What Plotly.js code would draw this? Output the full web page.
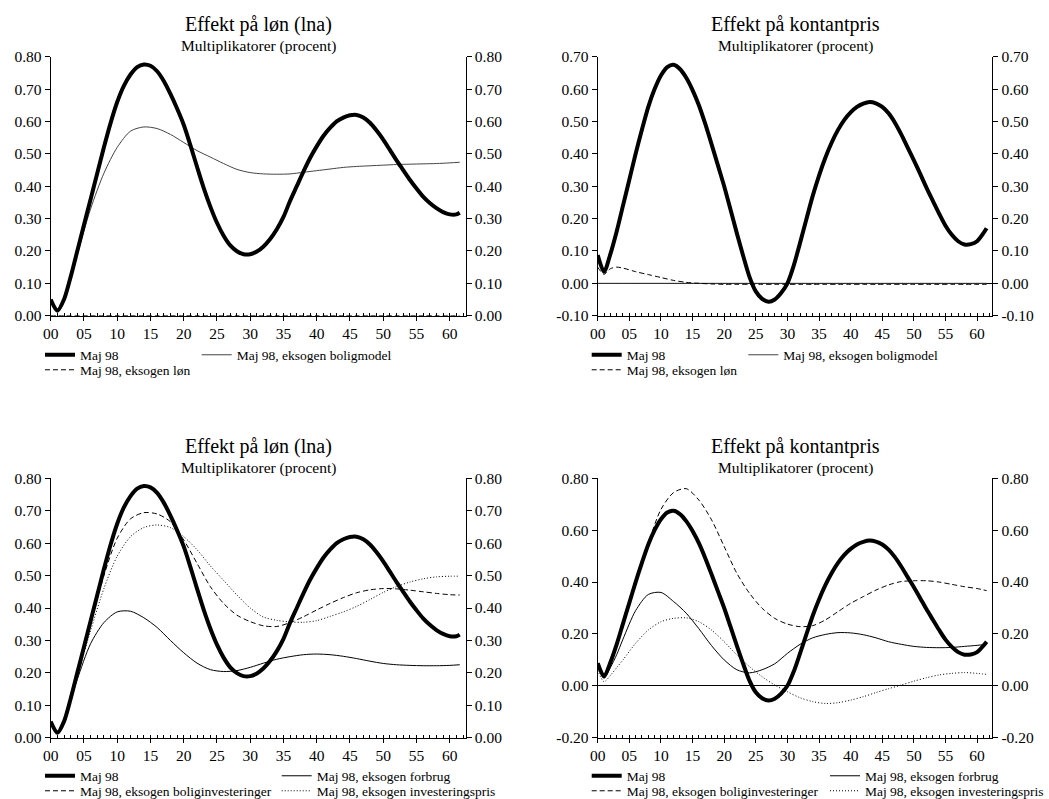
<!DOCTYPE html>
<html>
<head>
<meta charset="utf-8">
<script src="https://cdn.plot.ly/plotly-3.0.1.min.js"></script>
<style>html,body{margin:0;padding:0;background:#fff;overflow:hidden;width:1049px;height:799px;}#chart{width:1049px;height:799px;overflow:hidden;}</style>
</head>
<body>
<div id="chart"></div>
<script>
// ---------------- DATA ----------------
const quarters = [0,1,2,3,4,6,8,10,12,14,16,18,20,22,24,26,28,30,32,34,36,38,40,42,44,46,48,50,52,54,56,58,60,61.5];
const quartersFine = [0,1,2,3,4,5,6,7,8,9,10,11,12,13,14,15,16,17,18,19,20,21,22,23,24,25,26,27,28,29,30,31,32,33,34,35,36,37,38,39,40,41,42,43,44,45,46,47,48,49,50,51,52,53,54,55,56,57,58,59,60,61,61.5];
const xTickVals = [0,5,10,15,20,25,30,35,40,45,50,55,60];
const xTickText = ["00","05","10","15","20","25","30","35","40","45","50","55","60"];

const lnaTickVals = [0,0.1,0.2,0.3,0.4,0.5,0.6,0.7,0.8];
const lnaTickText = ["0.00","0.10","0.20","0.30","0.40","0.50","0.60","0.70","0.80"];
const kontTopTickVals = [-0.1,0,0.1,0.2,0.3,0.4,0.5,0.6,0.7];
const kontTopTickText = ["-0.10","0.00","0.10","0.20","0.30","0.40","0.50","0.60","0.70"];
const kontBotTickVals = [-0.2,0,0.2,0.4,0.6,0.8];
const kontBotTickText = ["-0.20","0.00","0.20","0.40","0.60","0.80"];

const titleLon = "Effekt på løn (lna)";
const titleKont = "Effekt på kontantpris";
const subtitle = "Multiplikatorer (procent)";

const nameMaj98 = "Maj 98";
const nameLoen = "Maj 98, eksogen løn";
const nameBoligmodel = "Maj 98, eksogen boligmodel";
const nameBoliginv = "Maj 98, eksogen boliginvesteringer";
const nameForbrug = "Maj 98, eksogen forbrug";
const nameInvpris = "Maj 98, eksogen investeringspris";

// Effekt på løn (lna) -- Maj 98 on the fine grid
const lnaMaj98 = [0.05,0.015,0.05,0.12,0.20,0.28,0.36,0.44,0.52,0.595,0.66,0.71,0.745,0.768,0.776,0.772,0.755,0.725,0.685,0.64,0.59,0.527,0.46,0.395,0.337,0.287,0.247,0.217,0.199,0.19,0.19,0.198,0.214,0.237,0.267,0.305,0.355,0.40,0.445,0.487,0.523,0.555,0.58,0.60,0.612,0.619,0.62,0.612,0.596,0.572,0.544,0.512,0.48,0.45,0.42,0.393,0.368,0.348,0.332,0.32,0.313,0.313,0.318];
const lnaLoen = [0,0,0,0,0,0,0,0,0,0,0,0,0,0,0,0,0,0,0,0,0,0,0,0,0,0,0,0,0,0,0,0,0,0];
const lnaBoligmodel = [0.05,0.015,0.05,0.115,0.19,0.33,0.44,0.52,0.57,0.583,0.578,0.56,0.535,0.51,0.49,0.47,0.452,0.442,0.438,0.437,0.438,0.443,0.448,0.453,0.458,0.461,0.463,0.465,0.467,0.468,0.469,0.47,0.472,0.474];
const lnaForbrug = [0.05,0.015,0.05,0.115,0.18,0.29,0.355,0.388,0.39,0.37,0.34,0.30,0.262,0.23,0.21,0.204,0.207,0.217,0.23,0.242,0.25,0.256,0.258,0.256,0.251,0.244,0.236,0.229,0.225,0.223,0.222,0.222,0.223,0.225];
const lnaBoliginv = [0.05,0.015,0.05,0.12,0.20,0.35,0.50,0.615,0.675,0.694,0.69,0.666,0.61,0.538,0.466,0.414,0.378,0.358,0.345,0.343,0.355,0.373,0.394,0.414,0.432,0.447,0.456,0.46,0.459,0.455,0.45,0.445,0.441,0.44];
const lnaInvpris = [0.05,0.015,0.05,0.115,0.19,0.33,0.46,0.56,0.62,0.648,0.656,0.648,0.62,0.58,0.53,0.485,0.44,0.40,0.372,0.362,0.357,0.356,0.361,0.374,0.388,0.405,0.426,0.448,0.466,0.48,0.49,0.496,0.498,0.498];

// Effekt på kontantpris -- Maj 98 on the fine grid
const kontMaj98 = [0.087,0.036,0.09,0.16,0.24,0.32,0.40,0.475,0.545,0.60,0.642,0.668,0.675,0.662,0.635,0.597,0.55,0.493,0.43,0.365,0.30,0.228,0.155,0.085,0.02,-0.025,-0.048,-0.057,-0.05,-0.03,0.0,0.055,0.125,0.198,0.27,0.333,0.388,0.435,0.474,0.505,0.528,0.545,0.555,0.56,0.556,0.545,0.525,0.496,0.46,0.42,0.38,0.338,0.295,0.255,0.215,0.178,0.15,0.13,0.12,0.121,0.13,0.155,0.17];
const kontLoen = [0.05,0.028,0.045,0.05,0.047,0.036,0.027,0.018,0.009,0.003,0.0,-0.002,-0.003,-0.003,-0.003,-0.003,-0.003,-0.003,-0.003,-0.003,-0.003,-0.003,-0.003,-0.003,-0.003,-0.003,-0.003,-0.003,-0.003,-0.003,-0.003,-0.003,-0.003,-0.003];
const kontBoligmodel = [0,0,0,0,0,0,0,0,0,0,0,0,0,0,0,0,0,0,0,0,0,0,0,0,0,0,0,0,0,0,0,0,0,0];
const kontForbrug = [0.08,0.03,0.07,0.12,0.18,0.29,0.352,0.36,0.325,0.28,0.22,0.155,0.10,0.062,0.05,0.062,0.085,0.125,0.16,0.185,0.198,0.205,0.204,0.197,0.185,0.17,0.16,0.152,0.148,0.147,0.148,0.152,0.156,0.16];
const kontBoliginv = [0.087,0.036,0.09,0.16,0.24,0.40,0.55,0.68,0.745,0.76,0.716,0.64,0.537,0.434,0.357,0.299,0.26,0.238,0.228,0.232,0.254,0.286,0.318,0.344,0.369,0.389,0.402,0.405,0.405,0.40,0.391,0.382,0.375,0.367];
const kontInvpris = [0.06,0.016,0.04,0.07,0.10,0.164,0.215,0.247,0.26,0.262,0.247,0.215,0.17,0.119,0.074,0.035,0.003,-0.023,-0.046,-0.061,-0.068,-0.065,-0.055,-0.042,-0.026,-0.011,0.003,0.018,0.031,0.042,0.048,0.051,0.048,0.044];

// ---------------- LAYOUT HELPERS ----------------
const W = 1049, H = 799;
const FONT = "Liberation Serif";
const px = v => v / W;
const py = v => 1 - v / H;

const panels = [
  {L:50.7, R:465.7, T:56.7, B:315.7, titleY:25, subY:46, title:titleLon, ticks:[lnaTickVals, lnaTickText], range:[0,0.8], zero:false},
  {L:597.7, R:992.3, T:56.7, B:315.7, titleY:25, subY:46, title:titleKont, ticks:[kontTopTickVals, kontTopTickText], range:[-0.1,0.7], zero:true},
  {L:50.7, R:465.7, T:478.3, B:737.7, titleY:446, subY:467.5, title:titleLon, ticks:[lnaTickVals, lnaTickText], range:[0,0.8], zero:false},
  {L:597.7, R:992.3, T:478.3, B:737.7, titleY:446, subY:467.5, title:titleKont, ticks:[kontBotTickVals, kontBotTickText], range:[-0.2,0.8], zero:true}
];
const xRange = [0, 62.4];

const styles = {
  maj98: {color:'#000', width:4, dash:'solid'},
  loen: {color:'#000', width:1, dash:'5px,3px'},
  boligmodel: {color:'#444', width:1, dash:'solid'},
  forbrug: {color:'#000', width:1, dash:'solid'},
  boliginv: {color:'#000', width:1, dash:'5px,3px'},
  invpris: {color:'#000', width:1, dash:'1px,2px'}
};

const layout = {
  width: W, height: H,
  margin: {l:0, r:0, t:0, b:0, autoexpand: false},
  paper_bgcolor: '#fff', plot_bgcolor: '#fff',
  font: {family: FONT, size: 15, color: '#000'},
  showlegend: true,
  annotations: [],
  hovermode: false
};

const traces = [];
let legendCount = 0;

function addLegend(textX, rowY) {
  legendCount += 1;
  const key = legendCount === 1 ? 'legend' : 'legend' + legendCount;
  layout[key] = {
    x: px(textX - 40), xanchor: 'left',
    y: py(rowY), yanchor: 'middle',
    bgcolor: 'rgba(0,0,0,0)', borderwidth: 0,
    font: {family: FONT, size: 13.5, color: '#000'},
    itemwidth: 30, tracegroupgap: 0
  };
  return key;
}

function addLine(p, xs, y, name, style, legendPos) {
  const i = p + 1;
  const xa = i === 1 ? 'x' : 'x' + i;
  const ya = (2 * p + 1) === 1 ? 'y' : 'y' + (2 * p + 1);
  traces.push({
    type: 'scatter', mode: 'lines', x: xs, y: y, name: name,
    xaxis: xa, yaxis: ya,
    line: {color: style.color, width: style.width, dash: style.dash, shape: 'spline', smoothing: 0.8},
    legend: addLegend(legendPos[0], legendPos[1]),
    hoverinfo: 'skip'
  });
}

panels.forEach((pn, p) => {
  const i = p + 1;
  const xKey = i === 1 ? 'xaxis' : 'xaxis' + i;
  const yL = 2 * p + 1, yR = 2 * p + 2;
  const yLKey = yL === 1 ? 'yaxis' : 'yaxis' + yL;
  const yRKey = 'yaxis' + yR;
  const yLRef = yL === 1 ? 'y' : 'y' + yL;
  const xRef = i === 1 ? 'x' : 'x' + i;
  const xdom = [px(pn.L), px(pn.R)];
  const ydom = [py(pn.B), py(pn.T)];
  layout[xKey] = {
    domain: xdom, anchor: yLRef, range: xRange, fixedrange: true,
    showline: true, linecolor: '#000', linewidth: 1,
    showgrid: false, zeroline: false,
    tickmode: 'array', tickvals: xTickVals, ticktext: xTickText,
    ticks: 'outside', ticklen: 4, tickcolor: '#000', tickwidth: 1,
    tickfont: {family: FONT, size: 15.5, color: '#000'},
    minor: {dtick: 1, tick0: 0, ticks: 'inside', ticklen: 3, tickcolor: '#000', tickwidth: 1, showgrid: false},
    automargin: false
  };
  const yCommon = {
    domain: ydom, range: pn.range, fixedrange: true,
    showline: true, linecolor: '#000', linewidth: 1, showgrid: false,
    tickmode: 'array', tickvals: pn.ticks[0], ticktext: pn.ticks[1],
    ticks: 'outside', ticklen: 5, tickcolor: '#000', tickwidth: 1,
    tickfont: {family: FONT, size: 15.5, color: '#000'},
    automargin: false
  };
  layout[yLKey] = Object.assign({}, yCommon, {anchor: xRef, side: 'left', zeroline: pn.zero, zerolinecolor: '#000', zerolinewidth: 1});
  layout[yRKey] = Object.assign({}, yCommon, {anchor: xRef, side: 'right', overlaying: yLRef, zeroline: false});

  const cx = px((pn.L + pn.R) / 2);
  layout.annotations.push({text: pn.title, xref: 'paper', yref: 'paper', x: cx, y: py(pn.titleY), xanchor: 'center', yanchor: 'middle', showarrow: false, font: {family: FONT, size: 20, color: '#000'}});
  layout.annotations.push({text: subtitle, xref: 'paper', yref: 'paper', x: cx, y: py(pn.subY), xanchor: 'center', yanchor: 'middle', showarrow: false, font: {family: FONT, size: 15.5, color: '#000'}});
});

// legend text positions (px): column text x, row centre y
addLine(0, quarters, lnaLoen, nameLoen, styles.loen, [80, 370]);
addLine(0, quarters, lnaBoligmodel, nameBoligmodel, styles.boligmodel, [236.7, 355]);
addLine(0, quartersFine, lnaMaj98, nameMaj98, styles.maj98, [80, 355]);

addLine(1, quarters, kontBoligmodel, nameBoligmodel, styles.boligmodel, [783.3, 355]);
addLine(1, quarters, kontLoen, nameLoen, styles.loen, [626.7, 370]);
addLine(1, quartersFine, kontMaj98, nameMaj98, styles.maj98, [626.7, 355]);

addLine(2, quarters, lnaForbrug, nameForbrug, styles.forbrug, [316.7, 776]);
addLine(2, quarters, lnaBoliginv, nameBoliginv, styles.boliginv, [80, 791]);
addLine(2, quarters, lnaInvpris, nameInvpris, styles.invpris, [316.7, 791]);
addLine(2, quartersFine, lnaMaj98, nameMaj98, styles.maj98, [80, 776]);

addLine(3, quarters, kontForbrug, nameForbrug, styles.forbrug, [865, 776]);
addLine(3, quarters, kontBoliginv, nameBoliginv, styles.boliginv, [626.7, 791]);
addLine(3, quarters, kontInvpris, nameInvpris, styles.invpris, [865, 791]);
addLine(3, quartersFine, kontMaj98, nameMaj98, styles.maj98, [626.7, 776]);

// invisible traces so each right-hand axis has data
[lnaMaj98, kontMaj98, lnaMaj98, kontMaj98].forEach((ser, p) => {
  const i = p + 1;
  traces.push({
    type: 'scatter', mode: 'lines', x: quartersFine, y: ser,
    xaxis: i === 1 ? 'x' : 'x' + i, yaxis: 'y' + (2 * p + 2),
    line: {color: 'rgba(0,0,0,0)', width: 0}, showlegend: false, hoverinfo: 'skip'
  });
});

Plotly.newPlot('chart', traces, layout, {staticPlot: true, displayModeBar: false});
</script>
</body>
</html>
